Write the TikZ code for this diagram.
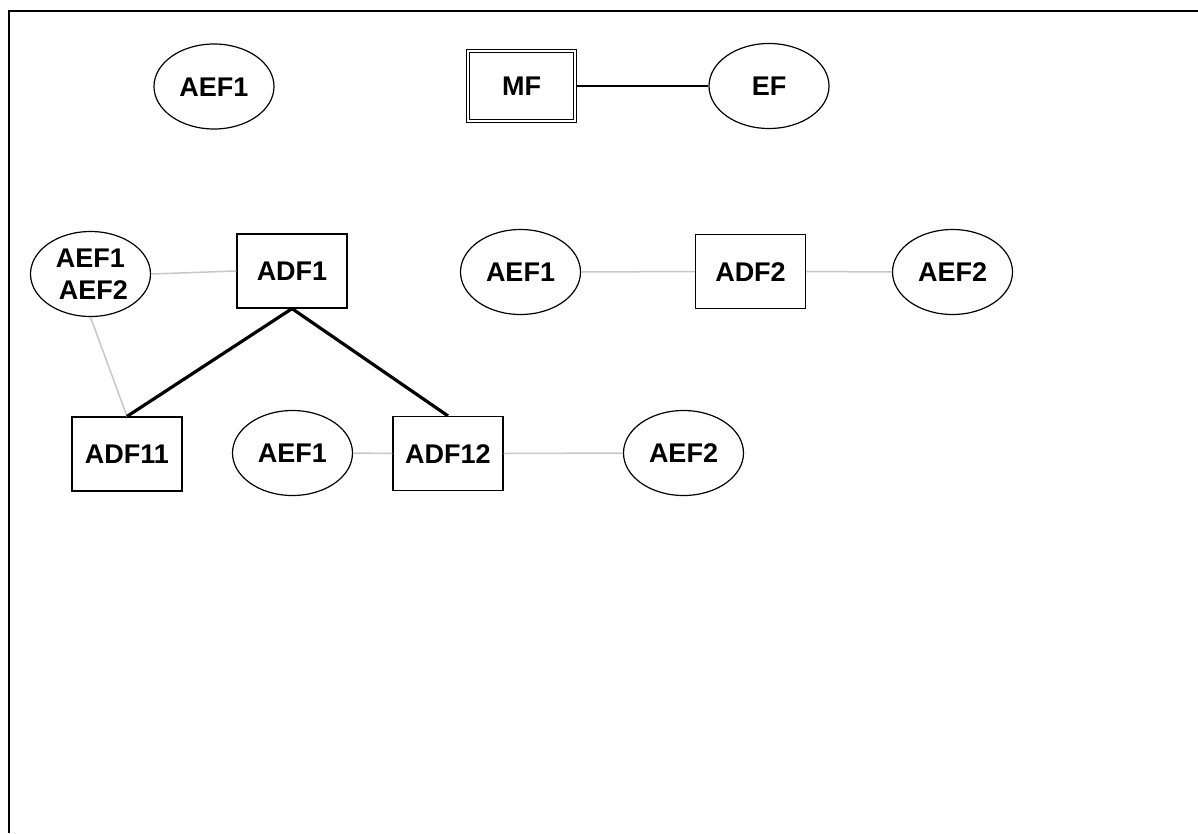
\documentclass[tikz,border=0pt]{standalone}
\usepackage{fontspec}
\setmainfont{Liberation Sans}
\usetikzlibrary{shapes.geometric}
\tikzset{
  x=1pt, y=-1pt,
  every node/.style={font=\fontsize{27}{31.7}\selectfont\bfseries, inner sep=0pt},
  one/.style={text height=19.3pt, text depth=0pt},
  ent/.style={ellipse, draw, line width=1.2pt, minimum width=120pt, minimum height=85pt},
  boxnode/.style={rectangle, draw, line width=1.2pt, minimum width=110pt, minimum height=74pt},
  dblbox/.style={rectangle, draw, line width=1.1pt, double, double distance=2.2pt, minimum width=107.5pt, minimum height=69.5pt},
  link/.style={draw=black!22, line width=1.5pt},
  thin/.style={draw=black, line width=1.2pt},
  heavy/.style={draw=black, line width=3.2pt},
  frame/.style={draw=black, line width=2.2pt}
}
\begin{document}
\begin{tikzpicture}
\useasboundingbox (0,0) rectangle (1198,833);
% frame
\coordinate (f1) at (1198,11);
\coordinate (f2) at (9,11);
\coordinate (f3) at (9,833);
\draw[frame] (f1) -- (f2) -- (f3);

% top row
\node[ent, one] (aefA) at (214,86.5) {AEF1};
\node[dblbox, one] (mf) at (521.5,86) {MF};
\node[ent, one] (ef) at (769,86) {EF};

% middle row
\node[ent, align=center] (aef12) at (90.5,274) {AEF1\\\hspace*{6pt}AEF2};
\node[boxnode, one] (adf1) at (292,271) {ADF1};
\node[ent, one] (aefB) at (520.5,272) {AEF1};
\node[boxnode, one] (adf2) at (750.5,271.5) {ADF2};
\node[ent, one] (aefC) at (952.5,272) {AEF2};

% bottom row
\node[boxnode, one] (adf11) at (127,454) {ADF11};
\node[ent, one] (aefD) at (292.5,453) {AEF1};
\node[boxnode, one] (adf12) at (448,453.5) {ADF12};
\node[ent, one] (aefE) at (683.5,453) {AEF2};

% connectors
\draw[thin] (mf.east) -- (ef.west);
\draw[link] (aef12.east) -- (adf1.west);
\draw[link] (aef12.south) -- (adf11.north);
\draw[link] (aefB.east) -- (adf2.west);
\draw[link] (adf2.east) -- (aefC.west);
\draw[link] (aefD.east) -- (adf12.west);
\draw[link] (adf12.east) -- (aefE.west);
\draw[heavy] (adf1.south) -- (adf11.north);
\draw[heavy] (adf1.south) -- (adf12.north);
\end{tikzpicture}
\end{document}
